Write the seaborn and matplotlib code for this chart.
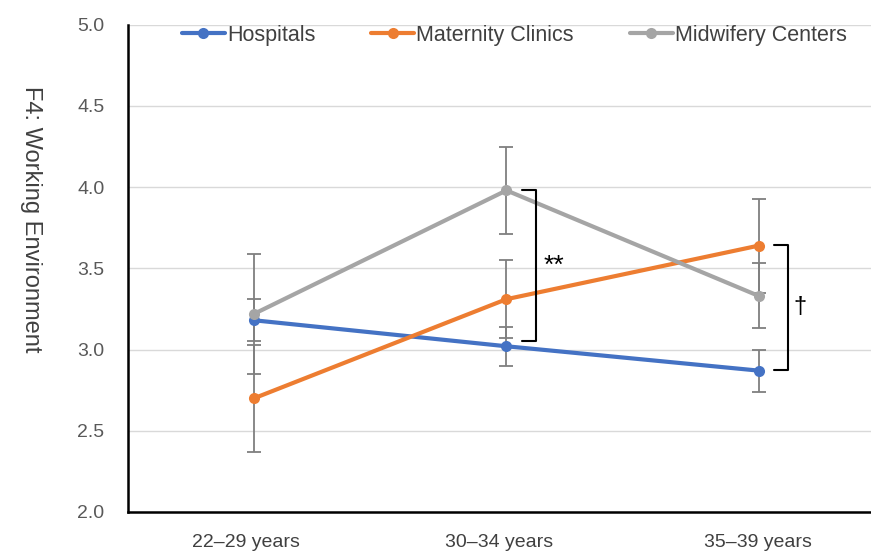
import numpy as np
import pandas as pd
import matplotlib
matplotlib.use("Agg")
import matplotlib.pyplot as plt
import matplotlib.transforms as mtransforms
import seaborn as sns

# Data
age_groups = ["22\u201329 years", "30\u201334 years", "35\u201339 years"]
hospitals = [3.18, 3.02, 2.87]
hospitals_err = [0.13, 0.12, 0.13]
maternity = [2.70, 3.31, 3.64]
maternity_err = [0.33, 0.24, 0.29]
midwifery = [3.22, 3.98, 3.33]
midwifery_err = [0.37, 0.27, 0.20]
series_names = ["Hospitals", "Maternity Clinics", "Midwifery Centers"]
colors = ["#4472C4", "#ED7D31", "#A5A5A5"]

means = [hospitals, maternity, midwifery]
errs = [hospitals_err, maternity_err, midwifery_err]

df = pd.DataFrame({
    "age": age_groups * 3,
    "score": hospitals + maternity + midwifery,
    "facility": np.repeat(series_names, 3),
})

sns.set_style("white")
plt.rcParams["font.family"] = ["Liberation Sans", "DejaVu Sans"]

fig = plt.figure(figsize=(8.71, 5.51), dpi=100)
ax = fig.add_axes([0.147, 0.071, 0.853, 0.884])

x = np.arange(len(age_groups))
# error bars first so lines sit on top
for m, e in zip(means, errs):
    ax.errorbar(x, m, yerr=e, fmt="none", ecolor="#7F7F7F", elinewidth=1.3,
                capsize=5, capthick=1.3, zorder=2)

sns.lineplot(data=df, x="age", y="score", hue="facility", palette=colors,
             marker="o", markersize=8, markeredgewidth=0, linewidth=3,
             ax=ax, zorder=3)

ax.set_ylim(2.0, 5.0)
ax.set_yticks(np.arange(2.0, 5.01, 0.5))
ax.set_yticklabels([f"{v:.1f}" for v in np.arange(2.0, 5.01, 0.5)])
ax.set_xlim(-0.5, 2.445)
ax.yaxis.grid(True, color="#D9D9D9", linewidth=1)
ax.set_axisbelow(True)

for s in ["top", "right"]:
    ax.spines[s].set_visible(False)
for s in ["left", "bottom"]:
    ax.spines[s].set_color("black")
    ax.spines[s].set_linewidth(1.8)

ax.tick_params(axis="y", length=0, labelsize=14, labelcolor="#595959", pad=17)
ax.tick_params(axis="x", length=0, labelsize=14, labelcolor="#404040", pad=16)
# the category labels sit slightly left of the markers in the original
for lbl, off in zip(ax.get_xticklabels(), [-8, -7, -1]):
    lbl.set_transform(lbl.get_transform() +
                      mtransforms.ScaledTranslation(off / 100, 0, fig.dpi_scale_trans))
ax.set_xlabel("")
ax.set_ylabel("F4: Working Environment", fontsize=17, color="#404040",
              rotation=270, va="center", ha="center")
ax.yaxis.set_label_coords(-0.1305, 0.60)

# significance brackets
def bracket(xp, y0, y1, label, tx, fs, dx=0.055):
    ax.plot([xp, xp + dx, xp + dx, xp], [y1, y1, y0, y0], color="black",
            linewidth=1.5, zorder=4)
    ax.text(xp + dx + tx, (y0 + y1) / 2, label, fontsize=fs, ha="center",
            va="center", color="black")

bracket(1.063, 3.05, 3.98, "**", 0.072, 19)
bracket(2.06, 2.875, 3.645, "\u2020", 0.048, 17)

leg = ax.legend(loc="upper center", bbox_to_anchor=(0.52, 1.04), ncol=3,
                frameon=False, fontsize=15.5, handlelength=2.0, handletextpad=0.1,
                columnspacing=2.6)
for t in leg.get_texts():
    t.set_color("#404040")

fig.savefig("out.png", dpi=100)
